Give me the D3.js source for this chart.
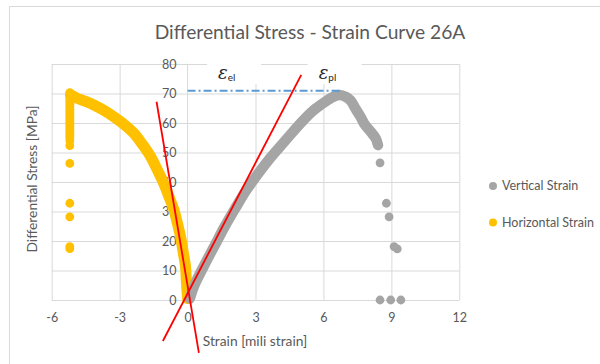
<!DOCTYPE html>
<html>
<head>
<meta charset="utf-8">
<script src="https://cdn.jsdelivr.net/npm/d3@7"></script>
<style>
  body { margin: 0; background: #fff; }
  text { font-family: Lato, "Open Sans", "Liberation Sans", sans-serif; }
</style>
</head>
<body>
<svg id="chart" width="600" height="364"></svg>
<script>
// ---- data -------------------------------------------------------------
const chartTitle = "Differential Stress - Strain Curve 26A";
const xTitle = "Strain [mili strain]";
const yTitle = "Differential Stress [MPa]";
const strainTicks = [-6, -3, 0, 3, 6, 9, 12];
const stressTicks = [0, 10, 20, 30, 40, 50, 60, 70, 80];
const seriesNames = ["Vertical Strain", "Horizontal Strain"];

// vertical (axial) strain: densely logged run, then sparse post-failure readings
const verticalRun = [
  [0.1, 0.5], [0.3, 5], [0.78, 12.4], [1.2, 18.5], [1.63, 24.8], [2.1, 31],
  [2.6, 37.3], [3.15, 43.2], [3.7, 48.6], [4.2, 53], [4.65, 57], [5.12, 61],
  [5.58, 64.4], [6.0, 66.8], [6.32, 68.4], [6.69, 69.5], [7.0, 68.8], [7.2, 67.6],
  [7.42, 64.8], [7.64, 62.1], [7.79, 59.9], [8.09, 57], [8.31, 54.8], [8.41, 52.5]
];
const verticalSparse = [
  [8.5, 46.5], [8.78, 32.8], [8.9, 28.2], [9.12, 18.1], [9.26, 17.3],
  [8.5, 0], [8.97, 0], [9.42, 0]
];

// horizontal (lateral) strain: dense run, gauge limit column, sparse readings
const horizontalRun = [
  [0, 0.5], [-0.05, 6], [-0.09, 11.3], [-0.2, 16.5], [-0.31, 21.5], [-0.45, 26],
  [-0.6, 30.5], [-0.82, 35], [-1.05, 39.5], [-1.33, 44], [-1.63, 48.6], [-2.0, 52.8],
  [-2.37, 56.5], [-2.8, 59.5], [-3.26, 62.1], [-3.7, 64.3], [-4.14, 66.1],
  [-4.5, 67.3], [-4.88, 68.4], [-5.17, 69.5]
];
const horizontalColumn = [[-5.2, 70.3], [-5.2, 55]];
const horizontalSparse = [
  [-5.2, 54], [-5.2, 52.3], [-5.2, 46.3], [-5.2, 32.8], [-5.2, 28.2],
  [-5.2, 18.1], [-5.2, 17.4]
];

// peak stress reference and tangent lines
const peakLine = [[0, 70.9], [6.84, 70.9]];
const elasticTangent = [[-1.09, -13.9], [5.02, 76.3]];
const lateralTangent = [[-1.37, 67.2], [0.5, -17.9]];

// strain component labels (symbol, subscript, strain, stress)
const strainLabels = [
  ["ε", "el", 1.79, 74.9],
  ["ε", "pl", 6.23, 74.9]
];

// ---- drawing ----------------------------------------------------------
const colors = { vertical: "#A5A5A5", horizontal: "#FFC000", grid: "#D9D9D9",
                 text: "#595959", peak: "#5B9BD5", tangent: "#FF0000" };

const svg = d3.select("#chart");
svg.append("rect").attr("width", 600).attr("height", 364).attr("fill", "#fff");

// chart frame
svg.append("path").attr("d", "M9.5,364 V6.5 H600")
  .attr("fill", "none").attr("stroke", colors.grid).attr("stroke-width", 1);

const x = d3.scaleLinear().domain([-6, 12]).range([51.7, 459.3]);
const y = d3.scaleLinear().domain([0, 80]).range([300, 64]);

// title
svg.append("text").attr("x", 310).attr("y", 39).attr("text-anchor", "middle")
  .attr("font-size", 19.2).attr("fill", colors.text).text(chartTitle);

// gridlines
const grid = svg.append("g");
grid.append("g").attr("transform", `translate(0,${y(0)})`)
  .call(d3.axisBottom(x).tickValues(strainTicks.filter(d => d !== 0))
    .tickSize(-(y(0) - y(80))).tickFormat(""))
  .call(g => g.select(".domain").remove())
  .call(g => g.selectAll("line").attr("stroke", colors.grid));
grid.append("g").attr("transform", `translate(${x(-6)},0)`)
  .call(d3.axisLeft(y).tickValues(stressTicks)
    .tickSize(-(x(12) - x(-6))).tickFormat(""))
  .call(g => g.select(".domain").remove())
  .call(g => g.selectAll("line").attr("stroke", colors.grid));
// vertical axis line at zero strain
grid.append("line").attr("x1", x(0)).attr("x2", x(0)).attr("y1", y(0)).attr("y2", y(80))
  .attr("stroke", colors.grid);

// tick labels
svg.append("g").attr("transform", `translate(0,${y(0)})`)
  .call(d3.axisBottom(x).tickValues(strainTicks).tickSize(0).tickPadding(13)
    .tickFormat(d => String(d)))
  .call(g => g.select(".domain").remove())
  .call(g => g.selectAll("text").attr("fill", colors.text).attr("font-size", 12.5)
    .attr("font-family", null));
svg.append("g").attr("transform", `translate(${x(0)},0)`)
  .call(d3.axisLeft(y).tickValues(stressTicks).tickSize(0).tickPadding(11)
    .tickFormat(d => String(d)))
  .call(g => g.select(".domain").remove())
  .call(g => g.selectAll("text").attr("fill", colors.text).attr("font-size", 12.5)
    .attr("font-family", null));

// axis titles
svg.append("text").attr("x", 255).attr("y", 346).attr("text-anchor", "middle")
  .attr("font-size", 13.8).attr("fill", colors.text).text(xTitle);
svg.append("text").attr("transform", "translate(37,179) rotate(-90)")
  .attr("text-anchor", "middle").attr("font-size", 13.8).attr("fill", colors.text)
  .text(yTitle);

// series
const line = d3.line().x(d => x(d[0])).y(d => y(d[1]));
const smooth = d3.line().x(d => x(d[0])).y(d => y(d[1])).curve(d3.curveCatmullRom);
const r = 4.4;

function drawRun(pts, color, width, gen) {
  svg.append("path").attr("d", gen(pts)).attr("fill", "none")
    .attr("stroke", color).attr("stroke-width", width)
    .attr("stroke-linecap", "round").attr("stroke-linejoin", "round");
}
function drawDots(pts, color) {
  svg.append("g").selectAll("circle").data(pts).join("circle")
    .attr("cx", d => x(d[0])).attr("cy", d => y(d[1])).attr("r", r).attr("fill", color);
}

drawRun(horizontalRun, colors.horizontal, 11, smooth);
drawRun(horizontalColumn, colors.horizontal, 8.8, line);
drawDots(horizontalSparse, colors.horizontal);

drawRun(verticalRun, colors.vertical, 10.5, smooth);
drawDots(verticalSparse, colors.vertical);

// peak stress line
svg.append("path").attr("d", line(peakLine)).attr("fill", "none")
  .attr("stroke", colors.peak).attr("stroke-width", 2)
  .attr("stroke-dasharray", "8,3,2,3");

// tangents
[elasticTangent, lateralTangent].forEach(t => {
  svg.append("path").attr("d", line(t)).attr("fill", "none")
    .attr("stroke", colors.tangent).attr("stroke-width", 1.8);
});

// strain component labels
strainLabels.forEach(([sym, sub, sx, sy]) => {
  const cx = x(sx), cy = y(sy);
  svg.append("rect").attr("x", cx - 21).attr("y", 56).attr("width", 54).attr("height", 28)
    .attr("fill", "#fff");
  const t = svg.append("text").attr("x", cx - 10).attr("y", cy).attr("fill", "#262626");
  t.append("tspan").attr("font-family", "'DejaVu Serif', serif").attr("font-style", "italic")
    .attr("font-size", 18).text(sym);
  t.append("tspan").attr("font-size", 10).attr("dy", 2).text(sub);
});

// legend
const legend = svg.append("g");
[[seriesNames[0], colors.vertical, 186], [seriesNames[1], colors.horizontal, 222.5]]
  .forEach(([name, color, ly]) => {
    legend.append("circle").attr("cx", 493).attr("cy", ly).attr("r", 4).attr("fill", color);
    legend.append("text").attr("x", 502).attr("y", ly + 4).attr("font-size", 12.5)
      .attr("fill", colors.text).text(name);
  });
</script>
</body>
</html>
